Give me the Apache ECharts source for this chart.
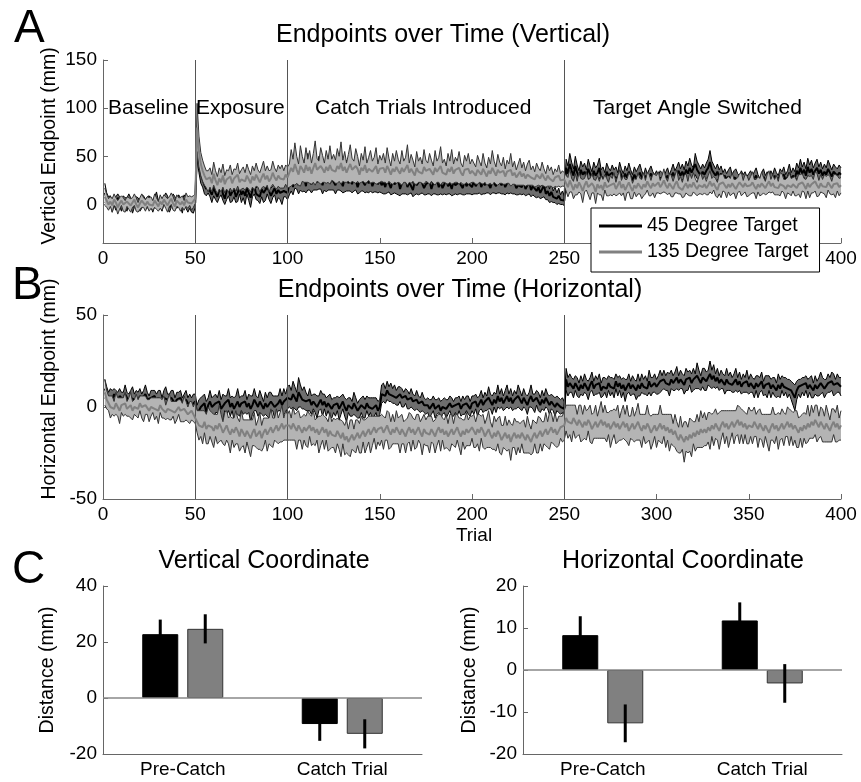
<!DOCTYPE html>
<html>
<head>
<meta charset="utf-8">
<script src="https://cdn.jsdelivr.net/npm/echarts@6/dist/echarts.min.js"></script>
<style>
  html, body { margin: 0; padding: 0; background: #fff; }
  #chart { width: 861px; height: 782px; }
</style>
</head>
<body>
<div id="chart"></div>
<script>
// ---- panel A: vertical endpoint (mm), mean and half-width of shaded band, trials 1..400
const vertMean45 = [
  12, 6, 3, 5, -2, 4, 1, 7, 3, -1, 5, 2, 0, 6, 3, -3, 2, 4, 1, -2, 3, 5, 0, 2, 4,
  1, -2, 3, 6, 0, 2, -1, 4, 7, 2, -3, 1, 5, 3, 0, 4, 2, -2, 6, 1, -2, 1, -4, -3, 2,
  62, 45, 32, 26, 20, 16, 22, 14, 10, 18, 12, 8, 15, 20, 11, 6, 14, 17, 9, 13, 16, 8, 12, 18, 10,
  14, 9, 17, 12, 7, 15, 19, 11, 13, 8, 16, 12, 10, 18, 14, 9, 13, 17, 11, 15, 12, 10, 14, 16, 12,
  22, 30, 18, 35, 26, 20, 32, 24, 28, 19, 34, 25, 21, 30, 27, 23, 33, 26, 20, 29, 24, 31, 22, 27, 25,
  20, 28, 33, 24, 19, 27, 30, 22, 26, 21, 29, 25, 18, 24, 31, 23, 20, 27, 22, 26, 19, 24, 28, 21, 25,
  20, 23, 18, 26, 22, 17, 24, 21, 19, 25, 16, 22, 20, 27, 18, 23, 21, 15, 24, 20, 18, 26, 22, 17, 21,
  19, 24, 16, 22, 20, 25, 18, 23, 17, 21, 26, 19, 22, 16, 24, 20, 18, 23, 21, 17, 25, 19, 22, 20, 18,
  24, 19, 22, 27, 18, 23, 20, 26, 21, 17, 25, 22, 19, 28, 23, 20, 24, 18, 22, 26, 21, 19, 23, 17, 20,
  22, 18, 24, 16, 20, 23, 15, 19, 21, 14, 18, 12, 16, 20, 11, 14, 9, 13, 8, 10, 6, 9, 5, 7, 4,
  38, 32, 42, 35, 30, 40, 33, 28, 36, 31, 34, 29, 37, 32, 27, 35, 30, 33, 38, 29, 31, 26, 34, 30, 28,
  33, 29, 31, 27, 35, 30, 26, 32, 28, 34, 29, 25, 31, 27, 30, 33, 28, 24, 30, 26, 29, 32, 27, 25, 28,
  24, 28, 26, 22, 27, 30, 25, 29, 33, 28, 31, 35, 30, 34, 29, 36, 32, 38, 33, 31, 42, 36, 33, 30, 34,
  31, 35, 38, 44, 36, 33, 30, 34, 29, 32, 27, 30, 26, 29, 31, 25, 28, 30, 26, 24, 28, 25, 27, 23, 26,
  28, 24, 27, 30, 25, 22, 26, 29, 24, 27, 23, 28, 25, 30, 26, 24, 29, 27, 31, 25, 28, 33, 26, 30, 27,
  35, 31, 38, 32, 36, 30, 39, 33, 37, 31, 35, 38, 32, 36, 30, 34, 31, 37, 33, 29, 34, 32, 30, 33, 31
];
const vertHw45 = [
  10, 6, 5, 4, 6, 5, 7, 4, 5, 6, 4, 5, 7, 5, 4, 6, 5, 4, 6, 5, 7, 4, 5, 6, 5,
  4, 6, 5, 7, 4, 5, 6, 4, 5, 7, 5, 4, 6, 5, 4, 6, 5, 7, 4, 5, 6, 5, 4, 6, 5,
  15, 12, 10, 8, 9, 7, 10, 6, 8, 9, 7, 6, 8, 10, 7, 6, 9, 8, 7, 10, 8, 6, 9, 7, 8,
  7, 9, 6, 8, 10, 7, 8, 6, 9, 7, 8, 10, 6, 7, 9, 8, 6, 7, 9, 8, 7, 10, 6, 8, 7,
  12, 16, 8, 18, 10, 9, 17, 11, 14, 7, 19, 10, 9, 15, 12, 8, 17, 10, 9, 14, 11, 16, 7, 12, 10,
  9, 13, 18, 10, 7, 14, 16, 8, 12, 9, 15, 10, 7, 12, 17, 9, 8, 14, 10, 12, 7, 11, 15, 9, 12,
  8, 12, 7, 14, 9, 7, 13, 9, 8, 15, 7, 11, 9, 16, 8, 12, 9, 7, 14, 9, 8, 15, 10, 7, 11,
  8, 13, 7, 11, 9, 15, 8, 12, 7, 10, 16, 8, 11, 7, 14, 9, 8, 12, 10, 7, 15, 8, 11, 9, 8,
  13, 8, 11, 15, 8, 12, 9, 14, 9, 7, 13, 10, 8, 16, 11, 9, 13, 8, 10, 15, 9, 8, 12, 7, 10,
  11, 8, 13, 7, 10, 12, 7, 9, 13, 7, 10, 6, 9, 12, 6, 9, 7, 10, 6, 8, 6, 8, 5, 7, 5,
  9, 8, 11, 9, 7, 10, 8, 7, 9, 8, 9, 7, 10, 8, 7, 9, 8, 8, 10, 7, 8, 7, 9, 8, 7,
  8, 7, 8, 6, 9, 7, 6, 8, 7, 9, 7, 6, 8, 7, 8, 9, 7, 6, 8, 6, 7, 8, 7, 6, 7,
  6, 7, 7, 6, 7, 8, 6, 7, 9, 7, 8, 9, 7, 8, 7, 9, 8, 10, 8, 7, 11, 9, 8, 7, 8,
  7, 8, 9, 12, 9, 8, 7, 8, 7, 8, 6, 7, 6, 7, 8, 6, 7, 7, 6, 6, 7, 6, 7, 6, 6,
  7, 6, 7, 8, 6, 5, 7, 8, 6, 7, 6, 7, 6, 8, 7, 6, 8, 7, 8, 6, 7, 9, 7, 8, 7,
  8, 7, 9, 7, 8, 7, 9, 8, 9, 7, 8, 9, 7, 8, 7, 8, 7, 9, 8, 7, 8, 7, 7, 8, 7
];
const vertMean135 = [
  8, 4, 0, 3, -1, 5, 2, -3, 1, 4, 0, -2, 3, 1, -1, 2, 5, 0, -3, 1, 4, 2, -1, 3, 0,
  2, -1, 4, 1, -2, 3, 0, 5, 2, -1, 3, 6, 1, -2, 4, 2, 0, 3, -1, 5, 2, 4, 1, 3, 6,
  80, 55, 42, 35, 30, 26, 24, 28, 22, 32, 25, 20, 27, 23, 30, 21, 26, 24, 29, 22, 27, 25, 31, 23, 26,
  28, 24, 30, 26, 22, 29, 25, 31, 27, 23, 28, 32, 26, 30, 24, 27, 33, 28, 25, 30, 27, 29, 26, 31, 28,
  30, 38, 34, 42, 36, 31, 40, 37, 33, 41, 35, 39, 32, 38, 43, 36, 34, 40, 37, 33, 39, 35, 41, 36, 38,
  34, 40, 37, 43, 35, 39, 33, 38, 42, 36, 34, 40, 37, 31, 38, 35, 41, 33, 37, 39, 34, 36, 40, 32, 37,
  35, 38, 33, 40, 36, 31, 37, 34, 39, 35, 32, 38, 34, 36, 41, 33, 37, 35, 30, 38, 34, 36, 32, 39, 35,
  33, 37, 35, 31, 38, 34, 36, 40, 33, 35, 31, 37, 34, 39, 32, 36, 34, 38, 33, 30, 36, 34, 37, 32, 35,
  33, 30, 36, 34, 31, 37, 33, 29, 35, 32, 38, 34, 30, 36, 33, 31, 35, 29, 34, 32, 36, 30, 33, 28, 31,
  34, 29, 32, 27, 31, 33, 28, 30, 26, 31, 29, 27, 32, 28, 25, 30, 27, 29, 24, 28, 26, 30, 25, 27, 26,
  22, 18, 25, 20, 15, 21, 17, 23, 19, 14, 20, 24, 18, 16, 22, 19, 13, 21, 17, 20, 15, 23, 18, 16, 20,
  18, 22, 16, 20, 24, 17, 21, 15, 19, 23, 18, 14, 20, 17, 22, 19, 16, 21, 18, 24, 20, 17, 22, 19, 21,
  23, 18, 21, 25, 20, 17, 22, 19, 16, 21, 24, 18, 20, 15, 19, 22, 17, 21, 18, 23, 19, 16, 20, 22, 18,
  21, 17, 20, 24, 19, 22, 18, 15, 21, 19, 23, 20, 17, 21, 18, 22, 19, 16, 20, 23, 21, 18, 22, 19, 17,
  20, 23, 19, 16, 21, 18, 22, 20, 17, 21, 24, 19, 22, 18, 20, 17, 21, 23, 19, 16, 20, 22, 18, 21, 19,
  17, 21, 19, 23, 20, 16, 22, 18, 21, 19, 24, 20, 17, 22, 19, 21, 18, 23, 20, 17, 21, 19, 22, 18, 20
];
const vertHw135 = [
  9, 7, 6, 5, 7, 6, 5, 7, 6, 5, 7, 6, 5, 6, 7, 5, 6, 7, 5, 6, 7, 5, 6, 5, 7,
  6, 5, 7, 6, 5, 7, 6, 5, 6, 7, 5, 6, 7, 5, 6, 5, 7, 6, 5, 7, 6, 5, 7, 6, 5,
  25, 16, 12, 11, 10, 9, 11, 10, 9, 12, 10, 9, 11, 10, 12, 9, 10, 11, 12, 9, 10, 11, 12, 9, 10,
  11, 9, 12, 10, 9, 11, 10, 12, 9, 10, 11, 13, 9, 10, 11, 9, 12, 10, 9, 11, 10, 12, 9, 10, 11,
  12, 19, 13, 22, 14, 11, 21, 13, 10, 18, 12, 17, 11, 15, 23, 12, 11, 19, 14, 10, 17, 12, 20, 11, 14,
  12, 18, 13, 22, 11, 16, 10, 14, 20, 12, 11, 18, 13, 9, 15, 11, 19, 10, 12, 17, 11, 13, 19, 10, 14,
  11, 15, 10, 19, 12, 9, 16, 11, 17, 12, 10, 18, 11, 13, 21, 10, 15, 11, 9, 17, 11, 13, 10, 18, 11,
  10, 16, 11, 9, 18, 11, 13, 20, 10, 12, 9, 16, 11, 18, 10, 13, 11, 17, 10, 9, 15, 11, 16, 10, 12,
  10, 9, 15, 11, 9, 16, 10, 9, 14, 10, 18, 11, 9, 16, 11, 9, 14, 8, 12, 10, 17, 9, 12, 8, 11,
  14, 9, 12, 8, 11, 13, 8, 10, 8, 12, 9, 8, 12, 9, 7, 11, 8, 10, 7, 9, 8, 11, 7, 8, 7,
  8, 10, 12, 7, 9, 11, 7, 10, 8, 12, 7, 9, 8, 11, 10, 7, 12, 9, 7, 10, 11, 8, 9, 7, 10,
  9, 11, 7, 10, 12, 8, 9, 11, 7, 10, 12, 8, 7, 9, 11, 8, 10, 12, 7, 9, 11, 8, 10, 12, 9,
  11, 7, 9, 12, 8, 7, 10, 11, 8, 9, 12, 7, 9, 8, 11, 10, 7, 12, 9, 10, 8, 7, 9, 11, 8,
  9, 7, 10, 11, 8, 7, 9, 8, 10, 12, 9, 7, 10, 8, 9, 11, 7, 10, 8, 9, 12, 7, 9, 11, 8,
  9, 11, 7, 10, 8, 9, 12, 8, 7, 10, 11, 7, 9, 8, 10, 7, 12, 9, 7, 10, 8, 11, 9, 7, 10,
  8, 10, 12, 9, 7, 10, 8, 11, 9, 7, 10, 12, 8, 9, 7, 10, 11, 8, 9, 7, 10, 12, 8, 9, 8
];

// ---- panel B: horizontal endpoint (mm)
const horzMean45 = [
  10, 7, 5, 6, 4, 7, 5, 3, 6, 5, 4, 7, 5, 3, 5, 6, 4, 5, 3, 6, 4, 5, 7, 4, 3,
  5, 4, 6, 3, 5, 4, 2, 5, 6, 4, 3, 5, 4, 2, 4, 3, 5, 2, 3, 4, 2, 3, 1, 2, 3,
  -4, -2, 0, -1, 2, -3, 1, 3, 0, -1, 2, 1, 3, -1, 0, 2, 1, 4, 0, 2, -1, 1, 3, 0, 2,
  1, 3, 0, 2, -1, 1, 4, 2, 0, 3, 1, -1, 2, 0, 1, 3, 2, 0, 1, 2, 4, 1, 3, 2, 5,
  6, 4, 7, 5, 3, 8, 6, 4, 5, 3, 2, 4, 1, 3, 2, 0, 2, 4, 1, 3, 0, 2, 1, -1, 1,
  0, 2, -1, 1, 3, 0, -2, 1, 0, -1, 2, 0, -2, -1, 1, 0, -1, 2, 0, 1, -1, 0, 1, -2, 0,
  7, 8, 6, 9, 7, 8, 6, 7, 5, 6, 7, 5, 4, 6, 4, 3, 5, 3, 2, 4, 2, 1, 3, 1, 0,
  1, -1, 0, 2, -1, 0, 1, -2, 0, 1, -1, 0, 2, 0, -1, 1, 0, 2, -1, 1, 0, 2, 1, -1, 2,
  1, 3, 0, 2, 4, 1, 3, 2, 5, 3, 1, 4, 2, 6, 3, 5, 2, 4, 6, 3, 5, 2, 4, 3, 6,
  4, 2, 5, 3, 1, 4, 6, 3, 2, 5, 3, 1, 4, 2, 5, 3, 1, 3, 2, 0, 2, 1, 0, 1, -1,
  15, 11, 13, 12, 10, 13, 11, 9, 12, 10, 13, 11, 9, 12, 14, 10, 12, 11, 13, 9, 11, 12, 10, 13, 11,
  12, 10, 14, 11, 13, 10, 12, 9, 11, 13, 10, 12, 11, 9, 12, 10, 13, 11, 12, 10, 14, 11, 12, 13, 11,
  12, 14, 13, 15, 13, 14, 12, 15, 13, 14, 16, 13, 15, 14, 12, 15, 14, 16, 13, 15, 14, 17, 15, 13, 16,
  15, 14, 16, 18, 15, 17, 14, 16, 13, 15, 14, 12, 15, 13, 14, 12, 13, 15, 12, 14, 11, 13, 12, 14, 11,
  13, 12, 10, 13, 11, 12, 14, 10, 12, 11, 13, 10, 12, 11, 9, 12, 10, 13, 11, 12, 10, 11, 9, 7, 5,
  9, 11, 10, 12, 11, 13, 10, 12, 11, 9, 12, 10, 11, 13, 12, 10, 11, 13, 12, 14, 12, 11, 13, 12, 11
];
const horzHw45 = [
  5, 4, 3, 4, 5, 3, 4, 5, 4, 3, 4, 5, 3, 4, 4, 5, 3, 4, 5, 4, 3, 4, 5, 4, 3,
  4, 5, 3, 4, 4, 5, 3, 4, 5, 3, 4, 4, 5, 3, 4, 5, 4, 3, 4, 5, 3, 4, 4, 5, 4,
  5, 6, 5, 7, 5, 6, 4, 6, 5, 7, 5, 4, 6, 5, 7, 4, 5, 6, 5, 4, 6, 5, 7, 5, 4,
  5, 6, 4, 5, 7, 5, 6, 4, 5, 6, 5, 4, 6, 5, 7, 5, 4, 6, 5, 4, 6, 5, 7, 5, 6,
  6, 5, 7, 6, 5, 8, 6, 5, 6, 5, 4, 6, 5, 4, 5, 6, 4, 5, 6, 4, 5, 4, 6, 5, 4,
  5, 4, 6, 5, 4, 5, 6, 4, 5, 4, 6, 5, 4, 5, 4, 6, 5, 4, 5, 4, 6, 5, 4, 5, 4,
  5, 5, 4, 5, 4, 5, 4, 5, 4, 5, 4, 5, 4, 4, 5, 4, 5, 4, 4, 5, 4, 4, 5, 4, 4,
  4, 5, 4, 4, 5, 4, 4, 5, 4, 4, 5, 4, 4, 5, 4, 4, 5, 4, 4, 5, 4, 4, 5, 4, 4,
  5, 4, 5, 4, 5, 4, 5, 4, 6, 4, 5, 4, 5, 6, 4, 5, 4, 5, 6, 4, 5, 4, 5, 4, 6,
  5, 4, 5, 4, 5, 4, 6, 4, 5, 4, 5, 4, 5, 4, 5, 4, 5, 4, 4, 5, 4, 4, 4, 4, 4,
  6, 5, 5, 4, 5, 4, 5, 4, 5, 4, 5, 4, 5, 4, 5, 4, 5, 4, 5, 4, 5, 4, 5, 4, 5,
  4, 5, 4, 5, 4, 5, 4, 6, 4, 5, 4, 5, 4, 5, 6, 4, 5, 4, 5, 4, 6, 5, 4, 5, 4,
  5, 6, 4, 5, 4, 5, 6, 5, 4, 5, 6, 4, 5, 4, 5, 6, 5, 4, 5, 6, 4, 7, 5, 4, 5,
  6, 5, 4, 7, 5, 6, 4, 5, 4, 5, 4, 5, 6, 4, 5, 4, 5, 6, 4, 5, 4, 5, 4, 6, 4,
  5, 4, 5, 4, 6, 4, 5, 4, 5, 6, 4, 5, 4, 5, 4, 6, 5, 4, 5, 4, 5, 4, 5, 6, 7,
  5, 4, 5, 4, 5, 4, 5, 4, 6, 4, 5, 4, 5, 6, 4, 5, 4, 5, 4, 5, 6, 4, 5, 4, 5
];
const horzMean135 = [
  8, 4, 2, 0, 1, -1, 2, 0, -2, 1, 0, 2, -1, 0, 1, -2, 0, 1, -1, 2, 0, -1, 1, 0, -2,
  0, 1, -1, 0, -2, 1, -1, 0, -3, -1, 0, -2, -1, -3, -2, 0, -2, -3, -1, -2, -4, -3, -2, -4, -3,
  -8, -10, -9, -11, -8, -12, -10, -9, -11, -13, -10, -12, -9, -11, -14, -12, -10, -13, -15, -12, -14, -11, -13, -16, -12,
  -14, -16, -13, -15, -17, -14, -12, -16, -15, -13, -17, -14, -12, -15, -13, -11, -14, -12, -10, -13, -11, -9, -12, -10, -11,
  -10, -12, -9, -11, -13, -10, -12, -14, -11, -13, -12, -10, -13, -11, -14, -12, -15, -13, -11, -14, -12, -16, -13, -15, -14,
  -16, -13, -15, -17, -14, -18, -16, -19, -17, -15, -18, -16, -14, -17, -15, -13, -16, -14, -12, -15, -13, -11, -14, -12, -13,
  -11, -14, -12, -10, -13, -15, -12, -14, -11, -13, -15, -12, -14, -16, -13, -11, -14, -12, -15, -13, -11, -14, -16, -12, -14,
  -13, -15, -12, -14, -16, -13, -11, -14, -12, -15, -13, -16, -14, -12, -15, -13, -11, -14, -16, -13, -15, -12, -14, -13, -11,
  -13, -15, -12, -14, -11, -13, -16, -14, -12, -15, -17, -14, -16, -13, -15, -18, -16, -14, -17, -15, -19, -16, -14, -17, -15,
  -17, -14, -16, -18, -15, -17, -19, -16, -14, -17, -15, -13, -16, -14, -12, -15, -13, -11, -14, -12, -15, -13, -11, -12, -10,
  -6, -8, -7, -9, -6, -8, -10, -7, -9, -11, -8, -10, -7, -9, -12, -10, -8, -11, -9, -7, -10, -8, -11, -9, -12,
  -10, -8, -11, -9, -12, -10, -8, -11, -9, -13, -11, -9, -12, -10, -8, -11, -13, -10, -12, -9, -11, -14, -12, -10, -13,
  -11, -9, -12, -10, -13, -11, -14, -12, -15, -13, -16, -18, -15, -17, -19, -16, -18, -15, -17, -14, -16, -13, -15, -12, -14,
  -12, -14, -11, -13, -10, -12, -9, -11, -13, -10, -8, -11, -9, -12, -10, -8, -11, -9, -7, -10, -8, -11, -9, -12, -10,
  -9, -11, -8, -10, -12, -9, -11, -13, -10, -12, -14, -11, -9, -12, -10, -13, -11, -9, -12, -10, -8, -11, -9, -12, -10,
  -12, -14, -11, -13, -10, -12, -9, -11, -8, -10, -7, -9, -11, -8, -10, -12, -9, -11, -13, -10, -8, -11, -9, -12, -10
];
const horzHw135 = [
  7, 5, 4, 6, 5, 4, 6, 5, 7, 4, 5, 6, 4, 5, 7, 5, 4, 6, 5, 4, 6, 7, 5, 4, 6,
  5, 4, 6, 5, 7, 4, 5, 6, 4, 5, 7, 5, 4, 6, 5, 4, 6, 5, 7, 5, 4, 6, 5, 4, 6,
  6, 8, 7, 9, 6, 8, 10, 7, 8, 9, 6, 8, 10, 7, 6, 9, 8, 7, 10, 6, 8, 9, 7, 8, 10,
  7, 9, 6, 8, 10, 7, 9, 6, 8, 10, 7, 8, 6, 9, 7, 10, 8, 6, 9, 7, 8, 10, 6, 8, 7,
  8, 6, 9, 7, 10, 8, 6, 9, 7, 8, 10, 6, 8, 9, 7, 6, 10, 8, 7, 9, 6, 8, 10, 7, 8,
  9, 7, 8, 10, 6, 8, 9, 7, 10, 8, 6, 9, 7, 8, 10, 6, 9, 8, 7, 10, 8, 6, 9, 7, 8,
  7, 9, 6, 8, 10, 7, 8, 6, 9, 7, 10, 8, 6, 9, 7, 8, 10, 6, 8, 9, 7, 6, 10, 8, 7,
  8, 10, 7, 6, 9, 8, 7, 10, 6, 8, 9, 7, 10, 8, 6, 9, 7, 8, 10, 6, 8, 9, 7, 8, 6,
  9, 7, 8, 10, 6, 9, 7, 8, 10, 7, 6, 9, 8, 7, 10, 8, 6, 9, 7, 8, 10, 6, 8, 9, 7,
  8, 6, 9, 7, 10, 8, 7, 9, 6, 8, 10, 7, 8, 6, 9, 7, 10, 8, 6, 9, 7, 8, 6, 7, 8,
  7, 9, 8, 10, 7, 9, 6, 8, 10, 7, 9, 8, 6, 10, 8, 7, 9, 6, 8, 10, 7, 9, 8, 6, 10,
  8, 7, 9, 10, 6, 8, 9, 7, 10, 8, 6, 9, 7, 8, 10, 7, 9, 6, 8, 10, 7, 9, 8, 6, 9,
  7, 10, 8, 6, 9, 7, 10, 8, 6, 9, 8, 7, 10, 6, 11, 8, 7, 9, 10, 6, 8, 9, 7, 10, 8,
  9, 7, 8, 10, 6, 9, 8, 7, 10, 8, 6, 9, 7, 10, 8, 6, 9, 7, 8, 10, 7, 9, 6, 8, 10,
  7, 9, 8, 6, 10, 8, 7, 9, 6, 8, 10, 7, 9, 8, 6, 10, 7, 8, 9, 6, 8, 10, 7, 9, 8,
  10, 8, 6, 9, 7, 8, 10, 6, 9, 7, 8, 10, 6, 8, 9, 7, 10, 8, 6, 9, 7, 8, 10, 6, 8
];

// phase boundaries and tick values
const phaseStarts = [50, 100, 250];
const vertTicks = [0, 50, 100, 150];

// ---- panel C: bar summaries (mm) and error bar half-lengths
const barCats = ['Pre-Catch', 'Catch Trial'];
const vertBar45 = [22.8, -9.3];
const vertErr45 = [5.2, 6.0];
const vertBar135 = [24.7, -12.8];
const vertErr135 = [5.2, 5.2];
const horzBar45 = [8.3, 11.8];
const horzErr45 = [4.5, 4.3];
const horzBar135 = [-12.7, -3.2];
const horzErr135 = [4.5, 4.6];

[vertMean45, vertHw45, vertMean135, vertHw135, horzMean45, horzHw45, horzMean135, horzHw135].forEach(function (a, k) {
  if (a.length !== 400) throw new Error('array ' + k + ' has ' + a.length + ' values');
});

const FONT = '"Liberation Sans", Arial, sans-serif';
const AXIS_COLOR = '#666';
const trials = vertMean45.map(function (_, i) { return i + 1; });

// shaded band: one polygon between mean-hw and mean+hw, with thin edges
function band(mean, hw, grid, fill, edge, z) {
  const pts = mean.map(function (m, i) { return [trials[i], m - hw[i], m + hw[i]]; });
  return {
    type: 'custom', xAxisIndex: grid, yAxisIndex: grid, z: z, silent: true,
    data: pts, encode: { x: 0, y: [1, 2] },
    renderItem: function (params, api) {
      if (params.dataIndex !== 0) return null;
      const up = pts.map(function (p) { return api.coord([p[0], p[2]]); });
      const lo = pts.map(function (p) { return api.coord([p[0], p[1]]); });
      return {
        type: 'group',
        children: [
          { type: 'polygon', shape: { points: up.concat(lo.slice().reverse()) }, style: { fill: fill, stroke: null } },
          { type: 'polyline', shape: { points: up }, style: { stroke: edge, lineWidth: 1, fill: null } },
          { type: 'polyline', shape: { points: lo }, style: { stroke: edge, lineWidth: 1, fill: null } }
        ]
      };
    }
  };
}

function meanLine(mean, name, grid, color, z, withPhases) {
  const s = {
    type: 'line', name: name, xAxisIndex: grid, yAxisIndex: grid, symbol: 'none', silent: true,
    data: mean.map(function (m, i) { return [trials[i], m]; }),
    lineStyle: { color: color, width: 2 }, itemStyle: { color: color }, z: z,
    emphasis: { disabled: true }
  };
  if (withPhases) {
    s.markLine = {
      silent: true, symbol: ['none', 'none'], label: { show: false }, animation: false,
      lineStyle: { color: '#555', width: 1, type: 'solid' },
      data: phaseStarts.map(function (x) { return { xAxis: x }; })
    };
  }
  return s;
}

function errorBars(vals, errs, grid, offset) {
  return {
    type: 'custom', xAxisIndex: grid, yAxisIndex: grid, z: 6, silent: true,
    data: vals.map(function (v, i) { return [i, v, errs[i]]; }),
    encode: { x: 0, y: 1 },
    renderItem: function (params, api) {
      const top = api.coord([api.value(0), api.value(1) + api.value(2)]);
      const bot = api.coord([api.value(0), api.value(1) - api.value(2)]);
      return {
        type: 'line',
        shape: { x1: top[0] + offset, y1: top[1], x2: bot[0] + offset, y2: bot[1] },
        style: { stroke: '#000', lineWidth: 3 }
      };
    }
  };
}

function bars(vals, name, grid, color, border, zeroLine) {
  const s = {
    type: 'bar', name: name, xAxisIndex: grid, yAxisIndex: grid, data: vals,
    barWidth: 36, barGap: '25%', silent: true, z: 3,
    itemStyle: { color: color, borderColor: border, borderWidth: 1 }
  };
  if (zeroLine) {
    s.markLine = {
      silent: true, symbol: ['none', 'none'], label: { show: false }, animation: false,
      lineStyle: { color: '#888', width: 1.5, type: 'solid' },
      data: [{ yAxis: 0 }]
    };
  }
  return s;
}

function valueX(grid) {
  return {
    gridIndex: grid, type: 'value', min: 0, max: 400, interval: 50,
    axisLine: { onZero: false, lineStyle: { color: AXIS_COLOR } },
    axisTick: { inside: true, length: 5, lineStyle: { color: AXIS_COLOR } },
    axisLabel: { color: '#000', fontSize: 19, fontFamily: FONT, margin: 6 },
    splitLine: { show: false }
  };
}
function valueY(grid, min, max, interval, custom) {
  const y = {
    gridIndex: grid, type: 'value', min: min, max: max,
    axisLine: { show: true, onZero: false, lineStyle: { color: AXIS_COLOR } },
    axisTick: { show: true, inside: true, length: 5, lineStyle: { color: AXIS_COLOR } },
    axisLabel: { color: '#000', fontSize: 19, fontFamily: FONT, margin: 6 },
    splitLine: { show: false }
  };
  if (custom) {
    y.axisTick.customValues = custom;
    y.axisLabel.customValues = custom;
  } else {
    y.interval = interval;
  }
  return y;
}
function catX(grid) {
  return {
    gridIndex: grid, type: 'category', data: barCats,
    axisLine: { onZero: false, lineStyle: { color: AXIS_COLOR } },
    axisTick: { inside: true, length: 5, alignWithLabel: true, lineStyle: { color: AXIS_COLOR } },
    axisLabel: { color: '#000', fontSize: 19, fontFamily: FONT, margin: 6 },
    splitLine: { show: false }
  };
}

function txt(text, x, y, size, align, rotate) {
  return {
    type: 'text', x: x, y: y, rotation: rotate ? Math.PI / 2 : 0, z: 100, silent: true,
    style: { text: text, fontSize: size, fontFamily: FONT, fill: '#000',
      align: align || 'center', verticalAlign: 'middle' }
  };
}

const chart = echarts.init(document.getElementById('chart'), null, { renderer: 'canvas' });

chart.setOption({
  animation: false,
  backgroundColor: '#fff',
  textStyle: { fontFamily: FONT },
  grid: [
    { left: 103, top: 60, width: 738, height: 183 },
    { left: 103, top: 315, width: 738, height: 184 },
    { left: 103, top: 586, width: 319, height: 168 },
    { left: 523, top: 586, width: 319, height: 168 }
  ],
  xAxis: [valueX(0), valueX(1), catX(2), catX(3)],
  yAxis: [
    valueY(0, -40, 150, null, vertTicks),
    valueY(1, -50, 50, 50),
    valueY(2, -20, 40, 20),
    valueY(3, -20, 20, 10)
  ],
  legend: {
    data: ['45 Degree Target', '135 Degree Target'],
    orient: 'vertical', left: 591, top: 208, z: 10,
    icon: 'rect', itemWidth: 43, itemHeight: 3, itemGap: 4,
    padding: [7, 11, 9, 8],
    backgroundColor: '#fff', borderColor: '#000', borderWidth: 1,
    selectedMode: false,
    textStyle: { color: '#000', fontSize: 19.5, fontFamily: FONT, lineHeight: 22 }
  },
  graphic: [
    txt('A', 14, 29, 46, 'left'),
    txt('Endpoints over Time (Vertical)', 443, 35, 25),
    txt('B', 12, 286, 46, 'left'),
    txt('Endpoints over Time (Horizontal)', 460, 290, 25),
    txt('C', 12, 570, 46, 'left'),
    txt('Vertical Coordinate', 264, 561, 25),
    txt('Horizontal Coordinate', 683, 561, 25),
    txt('Baseline', 108, 108, 21, 'left'),
    txt('Exposure', 196, 108, 21, 'left'),
    txt('Catch Trials Introduced', 315, 108, 21, 'left'),
    txt('Target Angle Switched', 593, 108, 21, 'left'),
    txt('Vertical Endpoint (mm)', 50, 146, 19.5, 'center', true),
    txt('Horizontal Endpoint (mm)', 50, 389, 19.5, 'center', true),
    txt('Trial', 474, 536, 19),
    txt('Distance (mm)', 48, 670, 19.5, 'center', true),
    txt('Distance (mm)', 470, 670, 19.5, 'center', true)
  ],
  series: [
    // A
    band(vertMean45, vertHw45, 0, '#6e6e6e', '#000', 2),
    meanLine(vertMean45, '45 Degree Target', 0, '#000', 3, false),
    band(vertMean135, vertHw135, 0, '#b4b4b4', '#333', 4),
    meanLine(vertMean135, '135 Degree Target', 0, '#808080', 5, true),
    // B
    band(horzMean45, horzHw45, 1, '#6e6e6e', '#000', 2),
    meanLine(horzMean45, '45 Degree Target', 1, '#000', 3, false),
    band(horzMean135, horzHw135, 1, '#b4b4b4', '#333', 4),
    meanLine(horzMean135, '135 Degree Target', 1, '#808080', 5, true),
    // C
    bars(vertBar45, 'vb45', 2, '#000', '#000', false),
    bars(vertBar135, 'vb135', 2, '#808080', '#333', true),
    errorBars(vertBar45, vertErr45, 2, -22.5),
    errorBars(vertBar135, vertErr135, 2, 22.5),
    bars(horzBar45, 'hb45', 3, '#000', '#000', false),
    bars(horzBar135, 'hb135', 3, '#808080', '#333', true),
    errorBars(horzBar45, horzErr45, 3, -22.5),
    errorBars(horzBar135, horzErr135, 3, 22.5)
  ]
});
</script>
</body>
</html>
